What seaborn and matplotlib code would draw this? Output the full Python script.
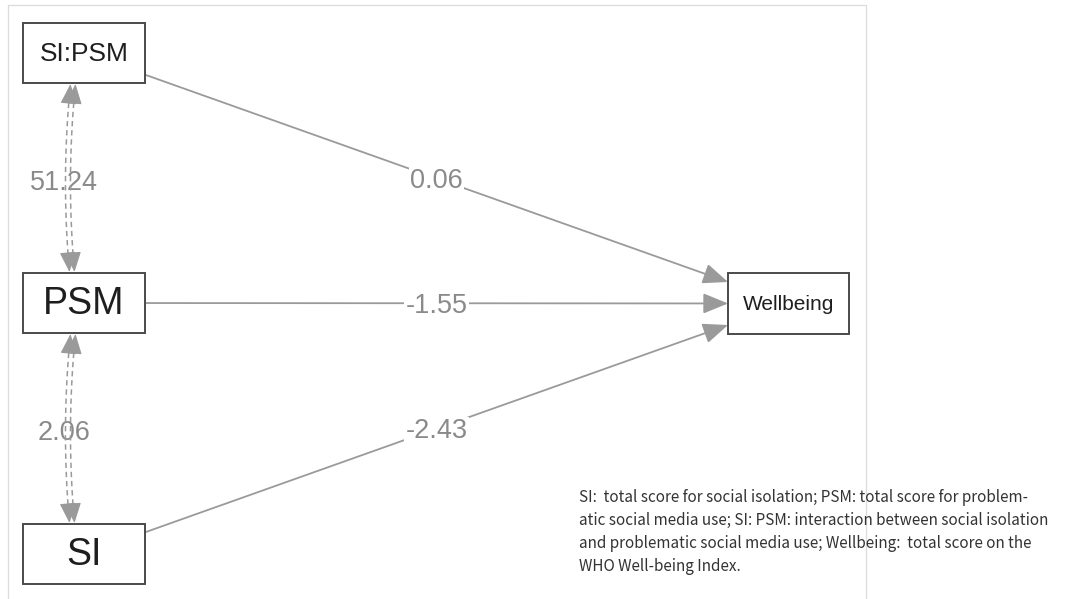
import numpy as np
import seaborn as sns
import matplotlib.pyplot as plt
from matplotlib.patches import Rectangle

# path model: SI, PSM and their interaction predicting Wellbeing
nodes = ["SI:PSM", "PSM", "SI", "Wellbeing"]
path_from = ["SI:PSM", "PSM", "SI"]
path_to = ["Wellbeing", "Wellbeing", "Wellbeing"]
path_est = [0.06, -1.55, -2.43]
cov_a = ["SI:PSM", "PSM"]
cov_b = ["PSM", "SI"]
cov_est = [51.24, 2.06]
caption = ["SI:  total score for social isolation; PSM: total score for problem-",
           "atic social media use; SI: PSM: interaction between social isolation",
           "and problematic social media use; Wellbeing:  total score on the",
           "WHO Well-being Index."]

# layout in pixel units (center x, center y, width, height, font size)
layout = {
    "SI:PSM":    (84, 53, 122, 60, 19),
    "PSM":       (84, 303, 122, 60, 27),
    "SI":        (84, 554, 122, 60, 27),
    "Wellbeing": (788.5, 303.5, 121, 61, 15),
}

sns.set_theme(style="white")
plt.rcParams['font.family'] = ['Liberation Sans', 'DejaVu Sans']

W, H = 1069, 599
fig = plt.figure(figsize=(W / 100, H / 100), dpi=100)
ax = fig.add_axes([0, 0, 1, 1])
ax.set_xlim(0, W)
ax.set_ylim(H, 0)
ax.axis("off")

edge_col = "#9a9a9a"
lab_col = "#8a8a8a"
head = "-|>,head_length=1.1,head_width=0.45"

# outer frame of the figure panel
ax.add_patch(Rectangle((8, 5), 858, 620, fill=False, ec="#dcdcdc", lw=0.9, zorder=0))


def clip(node, dx, dy):
    cx, cy, w, h, _ = layout[node]
    t = min((w / 2) / abs(dx) if dx else np.inf, (h / 2) / abs(dy) if dy else np.inf)
    return cx + dx * t, cy + dy * t


# regression paths
for f, t, est in zip(path_from, path_to, path_est):
    x0, y0 = layout[f][:2]
    x1, y1 = layout[t][:2]
    sx, sy = clip(f, x1 - x0, y1 - y0)
    ex, ey = clip(t, x0 - x1, y0 - y1)
    ax.annotate("", xy=(ex, ey), xytext=(sx, sy),
                arrowprops=dict(arrowstyle=head, color=edge_col, lw=1.3,
                                shrinkA=0, shrinkB=0, mutation_scale=14), zorder=2)
    mx, my = (sx + ex) / 2, (sy + ey) / 2
    ax.text(mx, my + 2.5, f"{est:.2f}", ha="center", va="center", fontsize=19.5,
            color=lab_col, zorder=3,
            bbox=dict(boxstyle="square,pad=0.05", fc="white", ec="none"))

# covariances: dashed double-headed curves
for a, b, est in zip(cov_a, cov_b, cov_est):
    ca, cb = layout[a], layout[b]
    ya = ca[1] + ca[3] / 2 + 1
    yb = cb[1] - cb[3] / 2 - 1
    tt = np.linspace(0, 1, 60)
    for off in (-2.5, 2.5):
        xa = ca[0] - 11 + off
        xb = cb[0] - 12 + off
        xc = (xa + xb) / 2 - 9
        xs = (1 - tt) ** 2 * xa + 2 * tt * (1 - tt) * xc + tt ** 2 * xb
        ys = (1 - tt) ** 2 * ya + 2 * tt * (1 - tt) * ((ya + yb) / 2) + tt ** 2 * yb
        ax.plot(xs[3:-3], ys[3:-3], ls=(0, (3.5, 2.5)), color=edge_col, lw=1.1, zorder=4)
        for i0, i1 in ((0, 4), (-1, -5)):
            ax.annotate("", xy=(xs[i0], ys[i0]), xytext=(xs[i1], ys[i1]),
                        arrowprops=dict(arrowstyle=head, color=edge_col, lw=0.8,
                                        shrinkA=0, shrinkB=0, mutation_scale=11.5),
                        zorder=4)
    ax.text(ca[0] - 20, (ya + yb) / 2 + 5, f"{est:.2f}", ha="center", va="center",
            fontsize=19.5, color=lab_col, zorder=3)

# nodes
for n in nodes:
    cx, cy, w, h, fs = layout[n]
    ax.add_patch(Rectangle((cx - w / 2, cy - h / 2), w, h, fc="white", ec="#4a4a4a",
                           lw=1.4, zorder=5))
    ax.text(cx, cy + 1, n, ha="center", va="center", fontsize=fs, color="#1e1e1e", zorder=6)

# caption
for i, line in enumerate(caption):
    ax.text(579, 502 + i * 23, line, ha="left", va="baseline", fontsize=11.0,
            color="#333333", family=["Noto Sans CJK KR", "DejaVu Sans"], zorder=1)

fig.savefig("out.png", dpi=100)
